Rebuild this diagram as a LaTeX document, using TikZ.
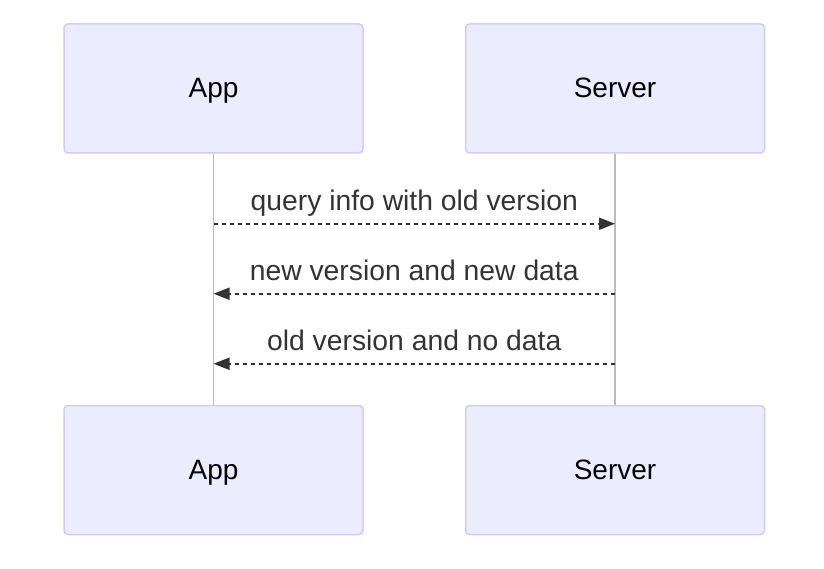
\documentclass[tikz,border=0pt]{standalone}
\usepackage{fontspec}
\setmainfont{Liberation Sans}
\usetikzlibrary{arrows.meta, positioning}
\definecolor{actorfill}{HTML}{ECECFF}
\definecolor{actorline}{HTML}{CCCCFF}
\definecolor{lifegray}{HTML}{BBBBBB}
\definecolor{msgcol}{HTML}{333333}
\tikzset{
  actor/.style   = {draw=actorline, fill=actorfill, line width=1.5pt,
                    rounded corners=4pt, minimum width=299pt,
                    minimum height=129pt, text height=22pt, text depth=3pt,
                    font=\fontsize{28}{33}\selectfont},
  lifeline/.style= {draw=lifegray, line width=1.5pt},
  msg/.style     = {draw=msgcol, line width=2pt, dash pattern=on 4.5pt off 3.5pt,
                    -{Triangle[length=16pt, width=12pt]}},
  msglabel/.style= {above=5pt, inner sep=1pt, text=msgcol,
                    text height=21pt, text depth=6pt,
                    font=\fontsize{28.3}{33}\selectfont}
}
\begin{document}
\begin{tikzpicture}
  \useasboundingbox (0,0) rectangle (824pt,568pt);
  \node[actor] (app) at (213.5pt,479.5pt) {App};
  \node[actor, right=101pt of app] (server) {Server};
  \node[actor, below=251pt of app] (appbot) {App};
  \node[actor, below=251pt of server] (serverbot) {Server};
  % lifelines
  \draw[lifeline] (app.south) -- (appbot.north);
  \draw[lifeline] (server.south) -- (serverbot.north);
  % message points
  \coordinate[below=70pt of app.south] (a1);
  \coordinate[below=70pt of a1] (a2);
  \coordinate[below=70pt of a2] (a3);
  \coordinate[below=70pt of server.south] (s1);
  \coordinate[below=70pt of s1] (s2);
  \coordinate[below=70pt of s2] (s3);
  % messages
  \draw[msg] (a1) -- node[msglabel]{query info with old version} (s1);
  \draw[msg] (s2) -- node[msglabel]{new version and new data} (a2);
  \draw[msg] (s3) -- node[msglabel]{old version and no data} (a3);
\end{tikzpicture}
\end{document}
